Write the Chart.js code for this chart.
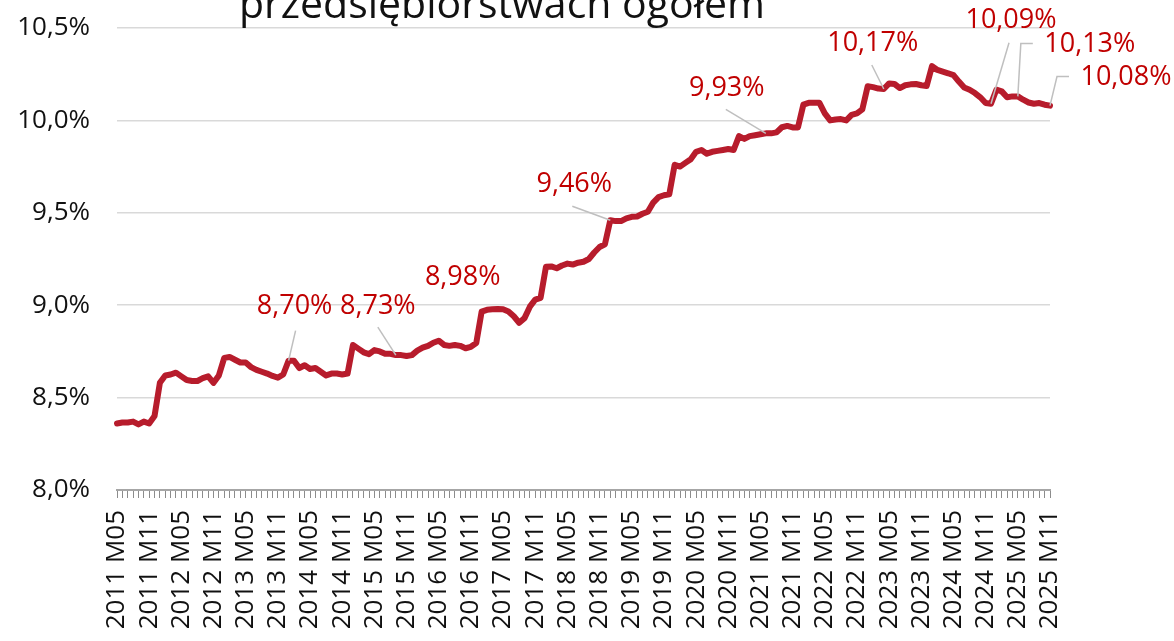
<!DOCTYPE html>
<html>
<head>
<meta charset="utf-8">
<script src="https://cdn.jsdelivr.net/npm/chart.js@4"></script>
<style>
  html, body { margin: 0; padding: 0; background: #fff; overflow: hidden; }
</style>
</head>
<body>
<canvas id="chart" width="1174" height="641"></canvas>
<script>
// Monthly series, 2011 M05 .. 2025 M11
const startYear = 2011;
const startMonth = 5;

const values = [
  8.36, 8.365, 8.365, 8.37, 8.355, 8.37, 8.36, 8.40,                              // 2011 M05-M12
  8.58, 8.62, 8.625, 8.635, 8.615, 8.595, 8.59, 8.59, 8.605, 8.615, 8.58, 8.62,      // 2012
  8.715, 8.72, 8.705, 8.69, 8.69, 8.665, 8.65, 8.64, 8.63, 8.617, 8.608, 8.625,      // 2013
  8.70, 8.70, 8.66, 8.675, 8.655, 8.66, 8.64, 8.62, 8.63, 8.63, 8.625, 8.63,         // 2014
  8.785, 8.765, 8.745, 8.735, 8.757, 8.75, 8.737, 8.737, 8.73, 8.73, 8.725, 8.73,    // 2015
  8.754, 8.77, 8.78, 8.797, 8.808, 8.785, 8.78, 8.785, 8.78, 8.767, 8.775, 8.795,    // 2016
  8.965, 8.975, 8.978, 8.98, 8.978, 8.966, 8.94, 8.905, 8.93, 8.992, 9.03, 9.04,     // 2017
  9.208, 9.21, 9.20, 9.215, 9.225, 9.22, 9.23, 9.235, 9.25, 9.285, 9.315, 9.33,      // 2018
  9.46, 9.455, 9.455, 9.47, 9.478, 9.48, 9.495, 9.506, 9.555, 9.585, 9.595, 9.60,    // 2019
  9.76, 9.75, 9.77, 9.79, 9.83, 9.84, 9.82, 9.83, 9.835, 9.84, 9.845, 9.84,          // 2020
  9.915, 9.90, 9.915, 9.92, 9.925, 9.93, 9.93, 9.935, 9.963, 9.97, 9.962, 9.962,     // 2021
  10.085, 10.095, 10.095, 10.095, 10.038, 10.00, 10.005, 10.007, 10.00, 10.03, 10.038, 10.06, // 2022
  10.185, 10.18, 10.172, 10.17, 10.20, 10.197, 10.175, 10.19, 10.195, 10.197, 10.19, 10.186, // 2023
  10.294, 10.273, 10.264, 10.255, 10.245, 10.21, 10.178, 10.166, 10.148, 10.125, 10.094, 10.09, // 2024
  10.166, 10.157, 10.125, 10.13, 10.13, 10.112, 10.097, 10.09, 10.094, 10.085, 10.08          // 2025 M01-M11
];

// category labels "2011 M05" ...
const months = values.map((v, i) => {
  const m = startMonth - 1 + i;
  const year = startYear + Math.floor(m / 12);
  return year + ' M' + String(m % 12 + 1).padStart(2, '0');
});

// y axis ticks
const yTicks = [8.0, 8.5, 9.0, 9.5, 10.0, 10.5];

// points that carry a value label
const labelledPoints = [32, 52, 71, 92, 121, 143, 163, 168, 174];

const titleText = 'przedsiębiorstwach ogółem';

// label placement (text centre offset from the point, leader start / elbow)
const labelPlacement = [
  { dx: 6,   dy: -54, leader: [[7, -30]] },
  { dx: -18, dy: -49, leader: [[-18, -28]] },
  { dx: -35, dy: -32, leader: null },
  { dx: -36, dy: -36, leader: [[-38, -14]] },
  { dx: -39, dy: -45, leader: [[-40, -24]] },
  { dx: -11, dy: -46, leader: [[-12, -24]] },
  { dx: 20,  dy: -83, leader: [[18, -61]] },
  { dx: 72,  dy: -52, leader: [[15, -53], [3, -53]] },
  { dx: 76,  dy: -28, leader: [[19, -29], [7, -29]] }
];

const fmt = v => v.toFixed(2).replace('.', ',') + '%';

const FONT = "'Open Sans', 'Noto Sans', sans-serif";

const titlePlugin = {
  id: 'cutTitle',
  afterDraw(chart) {
    const c = chart.ctx;
    c.save();
    c.font = '41px ' + FONT;
    c.fillStyle = '#111';
    c.textAlign = 'center';
    c.textBaseline = 'alphabetic';
    c.fillText(titleText, 502, 18);
    c.restore();
  }
};

const valueLabels = {
  id: 'valueLabels',
  afterDatasetsDraw(chart) {
    const c = chart.ctx;
    const xs = chart.scales.x, ys = chart.scales.y;
    c.save();
    labelledPoints.forEach((idx, k) => {
      const px = xs.getPixelForValue(idx);
      const py = ys.getPixelForValue(values[idx]);
      const p = labelPlacement[k];
      if (p.leader) {
        c.strokeStyle = '#bfbfbf';
        c.lineWidth = 1.5;
        c.beginPath();
        c.moveTo(px + p.leader[0][0], py + p.leader[0][1]);
        for (let j = 1; j < p.leader.length; j++) {
          c.lineTo(px + p.leader[j][0], py + p.leader[j][1]);
        }
        c.lineTo(px, py);
        c.stroke();
      }
      c.font = '27px ' + FONT;
      c.fillStyle = '#c00000';
      c.textAlign = 'center';
      c.textBaseline = 'middle';
      c.fillText(fmt(values[idx]), px + p.dx, py + p.dy);
    });
    c.restore();
  }
};

const chart = new Chart(document.getElementById('chart').getContext('2d'), {
  type: 'line',
  data: {
    labels: months,
    datasets: [{
      label: 'udział',
      data: values,
      borderColor: '#b71c2c',
      borderWidth: 6,
      pointRadius: 0,
      tension: 0,
      borderJoinStyle: 'round',
      borderCapStyle: 'round',
      fill: false
    }]
  },
  options: {
    responsive: false,
    animation: false,
    layout: { padding: { top: 28, right: 124, left: 0, bottom: 0 } },
    plugins: {
      legend: { display: false },
      tooltip: { enabled: false },
      title: { display: false }
    },
    scales: {
      x: {
        offset: false,
        afterFit(scale) {
          scale.height = 151;
          scale.paddingLeft = 0;
          scale.paddingRight = 0;
        },
        grid: {
          drawOnChartArea: false,
          drawTicks: true,
          tickLength: 8,
          color: '#8c8c8c',
          lineWidth: 1
        },
        border: { color: '#a6a6a6', width: 2 },
        ticks: {
          autoSkip: false,
          minRotation: 90,
          maxRotation: 90,
          padding: 12,
          color: '#111',
          font: { family: FONT, size: 26 },
          callback: (v, i) => i % 6 === 0 ? months[i] : ''
        }
      },
      y: {
        min: 8.0,
        max: 10.5,
        afterFit(scale) {
          scale.width = 117;
          scale.paddingTop = 0;
          scale.paddingBottom = 0;
        },
        afterBuildTicks(scale) { scale.ticks = yTicks.map(v => ({ value: v })); },
        grid: { color: '#d9d9d9', lineWidth: 1.5, drawTicks: false },
        border: { display: false },
        ticks: {
          padding: 27,
          color: '#111',
          font: { family: FONT, size: 26 },
          callback: v => v.toFixed(1).replace('.', ',') + '%'
        }
      }
    }
  },
  plugins: [valueLabels, titlePlugin]
});
</script>
</body>
</html>
